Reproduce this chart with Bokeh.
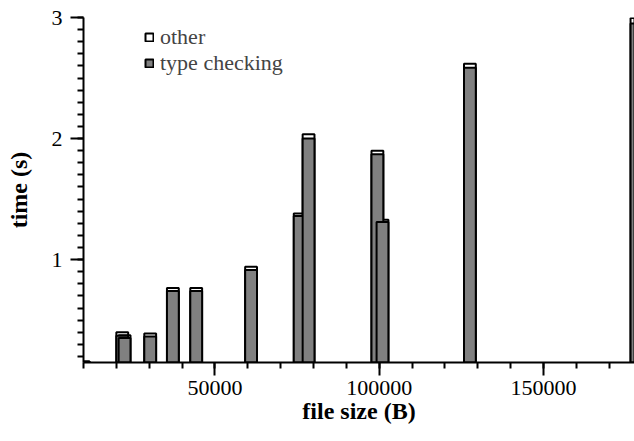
from bokeh.plotting import figure
from bokeh.models import Range1d, SingleIntervalTicker, Legend, LegendItem, ColumnDataSource, BasicTickFormatter
from bokeh.embed import file_html
from bokeh.resources import INLINE

# data: file size (B), time spent in type checking (s), total time (s) = type checking + other
file_size = [10000, 21800, 22500, 30300, 37200, 44300, 61000, 75800, 78500, 99450, 101000, 127600, 178300]
type_checking = [0.155, 0.372, 0.353, 0.365, 0.74, 0.74, 0.915, 1.36, 2.00, 1.87, 1.31, 2.585, 2.95]
total_time = [0.16, 0.40, 0.375, 0.39, 0.765, 0.765, 0.94, 1.38, 2.035, 1.90, 1.33, 2.617, 2.995]

series_names = ["other", "type checking"]
x_major = 50000
y_major = 1

FONT = "Liberation Serif"
BAR_W = 3600

src = ColumnDataSource(dict(x=file_size, tc=type_checking, tot=total_time))

p = figure(width=634, height=433, output_backend="svg", toolbar_location=None,
           x_range=Range1d(10000, 177700), y_range=Range1d(0.15, 3.0),
           min_border_left=83, min_border_top=17, min_border_right=0, min_border_bottom=71)
p.outline_line_color = None
p.xgrid.visible = False
p.ygrid.visible = False
p.background_fill_color = "white"

r_other = p.vbar(x="x", width=BAR_W, top="tot", bottom=0, source=src,
                 fill_color="white", line_color="black", line_width=2)
r_tc = p.vbar(x="x", width=BAR_W, top="tc", bottom=0, source=src,
              fill_color="#808080", line_color="black", line_width=2)

p.xaxis.ticker = SingleIntervalTicker(interval=x_major, num_minor_ticks=5)
p.yaxis.ticker = SingleIntervalTicker(interval=y_major, num_minor_ticks=10)
p.xaxis.formatter = BasicTickFormatter(use_scientific=False)
p.yaxis.formatter = BasicTickFormatter(use_scientific=False)

for ax in (p.xaxis[0], p.yaxis[0]):
    ax.axis_line_width = 2
    ax.major_tick_line_width = 2
    ax.minor_tick_line_width = 2
    ax.major_tick_out = 13
    ax.major_tick_in = 0
    ax.minor_tick_out = 6
    ax.minor_tick_in = 0
    ax.major_label_text_font = FONT
    ax.major_label_text_font_size = "22px"
    ax.major_label_text_color = "black"
    ax.axis_label_text_font = FONT
    ax.axis_label_text_font_size = "24px"
    ax.axis_label_text_font_style = "bold"
    ax.axis_label_text_color = "black"

p.xaxis.axis_label = "file size (B)"
p.yaxis.axis_label = "time (s)"
p.xaxis.major_label_standoff = 5
p.yaxis.major_label_standoff = 8
p.xaxis.axis_label_standoff = 0
p.yaxis.axis_label_standoff = 17
p.yaxis.major_label_orientation = "horizontal"

legend = Legend(items=[LegendItem(label=series_names[0], renderers=[r_other]),
                       LegendItem(label=series_names[1], renderers=[r_tc])],
                location=(61, 286))
legend.glyph_width = 10
legend.glyph_height = 10
legend.label_text_font = FONT
legend.label_text_font_size = "22px"
legend.label_standoff = 6
legend.padding = 0
legend.margin = 0
legend.spacing = 0
legend.background_fill_alpha = 0
legend.border_line_alpha = 0
p.add_layout(legend)

open("out.html", "w").write(file_html(p, INLINE))
